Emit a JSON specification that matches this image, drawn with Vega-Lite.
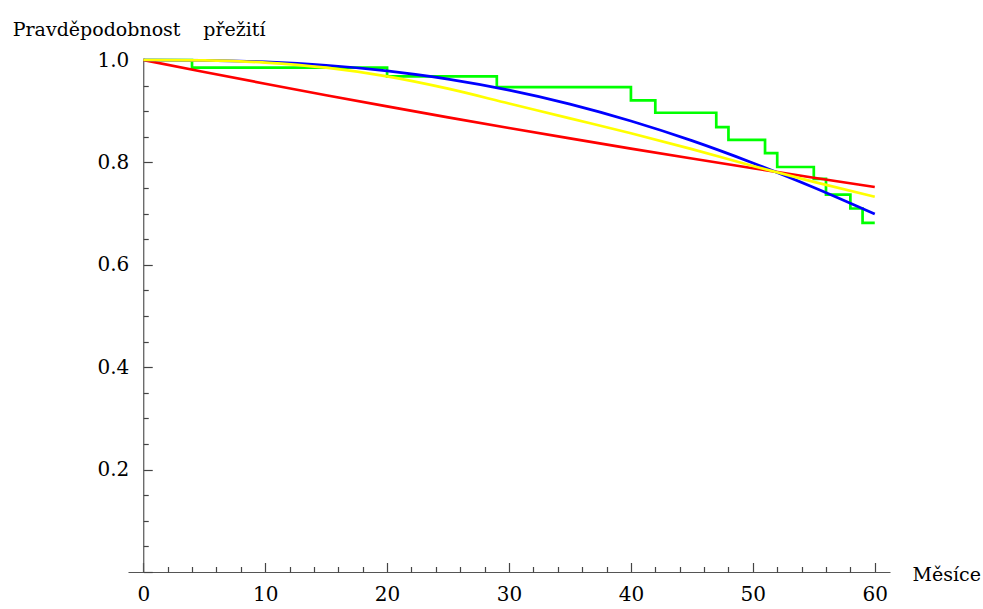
{
  "$schema": "https://vega.github.io/schema/vega-lite/v6.json",
  "autosize": {"type": "none"},
  "padding": {"left": 128, "top": 60, "right": 93, "bottom": 37},
  "width": 762,
  "height": 512,
  "background": "white",
  "config": {
    "view": {"stroke": null},
    "axis": {
      "grid": false,
      "labelFont": "DejaVu Serif",
      "titleFont": "DejaVu Serif",
      "labelFontSize": 20,
      "titleFontSize": 19,
      "labelColor": "black",
      "titleColor": "black",
      "titleFontWeight": "normal",
      "domainColor": "#555555",
      "tickColor": "#444444",
      "tickWidth": 1.2,
      "domainWidth": 1.2
    }
  },
  "datasets": {
    "km": [
      {"t": 0, "s": 1.0}, {"t": 4, "s": 0.985}, {"t": 20, "s": 0.968}, {"t": 29, "s": 0.947},
      {"t": 40, "s": 0.921}, {"t": 42, "s": 0.897}, {"t": 47, "s": 0.869}, {"t": 48, "s": 0.844},
      {"t": 51, "s": 0.818}, {"t": 52, "s": 0.791}, {"t": 55, "s": 0.768}, {"t": 56, "s": 0.737},
      {"t": 58, "s": 0.710}, {"t": 59, "s": 0.682}, {"t": 60, "s": 0.682}
    ],
    "red": [
      {"t": 0, "s": 1.0}, {"t": 5, "s": 0.9765}, {"t": 10, "s": 0.9536}, {"t": 15, "s": 0.9312},
      {"t": 20, "s": 0.9094}, {"t": 25, "s": 0.888}, {"t": 30, "s": 0.8672}, {"t": 35, "s": 0.8468},
      {"t": 40, "s": 0.827}, {"t": 45, "s": 0.8076}, {"t": 50, "s": 0.7886}, {"t": 55, "s": 0.7701},
      {"t": 60, "s": 0.752}
    ],
    "blue": [
      {"t": 0, "s": 1.0}, {"t": 5, "s": 0.9994}, {"t": 10, "s": 0.9964}, {"t": 15, "s": 0.9898},
      {"t": 20, "s": 0.9787}, {"t": 25, "s": 0.9627}, {"t": 30, "s": 0.9411}, {"t": 35, "s": 0.9139},
      {"t": 40, "s": 0.8809}, {"t": 45, "s": 0.8425}, {"t": 50, "s": 0.7989}, {"t": 55, "s": 0.7509},
      {"t": 60, "s": 0.6991}
    ],
    "yellow": [
      {"t": 0, "s": 1.0}, {"t": 5, "s": 0.9993}, {"t": 10, "s": 0.995}, {"t": 15, "s": 0.985},
      {"t": 20, "s": 0.968}, {"t": 25, "s": 0.944}, {"t": 30, "s": 0.915}, {"t": 35, "s": 0.886},
      {"t": 40, "s": 0.857}, {"t": 45, "s": 0.826}, {"t": 50, "s": 0.793}, {"t": 55, "s": 0.762},
      {"t": 60, "s": 0.733}
    ]
  },
  "resolve": {"axis": {"x": "independent", "y": "independent"}},
  "layer": [
    {
      "data": {"name": "km"},
      "mark": {"type": "line", "interpolate": "step-after", "color": "#00ff00", "strokeWidth": 2.7},
      "encoding": {
        "x": {"field": "t", "type": "quantitative",
              "scale": {"domain": [-1.25, 61.25], "nice": false, "zero": false},
              "axis": {"orient": "bottom", "values": [0, 10, 20, 30, 40, 50, 60], "tickSize": -9.5, "labels": false, "domain": true, "title": null}},
        "y": {"field": "s", "type": "quantitative",
              "scale": {"domain": [0, 1], "nice": false, "zero": false},
              "axis": {"orient": "left", "offset": -15.24, "values": [0, 0.2, 0.4, 0.6, 0.8, 1.0], "tickSize": -9, "labels": false, "domain": true, "title": null}}
      }
    },
    {
      "data": {"name": "red"},
      "mark": {"type": "line", "interpolate": "monotone", "color": "#ff0000", "strokeWidth": 2.7},
      "encoding": {
        "x": {"field": "t", "type": "quantitative",
              "scale": {"domain": [-1.25, 61.25], "nice": false, "zero": false},
              "axis": {"orient": "bottom", "values": [2, 4, 6, 8, 12, 14, 16, 18, 22, 24, 26, 28, 32, 34, 36, 38, 42, 44, 46, 48, 52, 54, 56, 58], "tickSize": -5.5, "labels": false, "domain": false, "title": null}},
        "y": {"field": "s", "type": "quantitative",
              "scale": {"domain": [0, 1], "nice": false, "zero": false},
              "axis": {"orient": "left", "offset": -15.24, "values": [0.05, 0.1, 0.15, 0.25, 0.3, 0.35, 0.45, 0.5, 0.55, 0.65, 0.7, 0.75, 0.85, 0.9, 0.95], "tickSize": -5, "labels": false, "domain": false, "title": null}}
      }
    },
    {
      "data": {"name": "blue"},
      "mark": {"type": "line", "interpolate": "monotone", "color": "#0000ff", "strokeWidth": 2.7},
      "encoding": {
        "x": {"field": "t", "type": "quantitative",
              "scale": {"domain": [-1.25, 61.25], "nice": false, "zero": false},
              "axis": {"orient": "bottom", "values": [0, 10, 20, 30, 40, 50, 60], "ticks": false, "domain": false, "labelPadding": 12, "format": "d",
                       "title": "Měsíce", "titleX": 784, "titleY": 8, "titleAlign": "left", "titleBaseline": "alphabetic"}},
        "y": {"field": "s", "type": "quantitative",
              "scale": {"domain": [0, 1], "nice": false, "zero": false},
              "axis": {"orient": "left", "offset": -15.24, "values": [0.2, 0.4, 0.6, 0.8, 1.0], "format": ".1f", "ticks": false, "domain": false, "labelPadding": 14.5,
                       "title": "Pravděpodobnost\u2003\u2009přežití", "titleAngle": 0, "titleX": -131, "titleY": -25, "titleAlign": "left", "titleBaseline": "alphabetic"}}
      }
    },
    {
      "data": {"name": "yellow"},
      "mark": {"type": "line", "interpolate": "monotone", "color": "#ffff00", "strokeWidth": 2.7},
      "encoding": {
        "x": {"field": "t", "type": "quantitative",
              "scale": {"domain": [-1.25, 61.25], "nice": false, "zero": false},
              "axis": null},
        "y": {"field": "s", "type": "quantitative",
              "scale": {"domain": [0, 1], "nice": false, "zero": false},
              "axis": null}
      }
    }
  ]
}
